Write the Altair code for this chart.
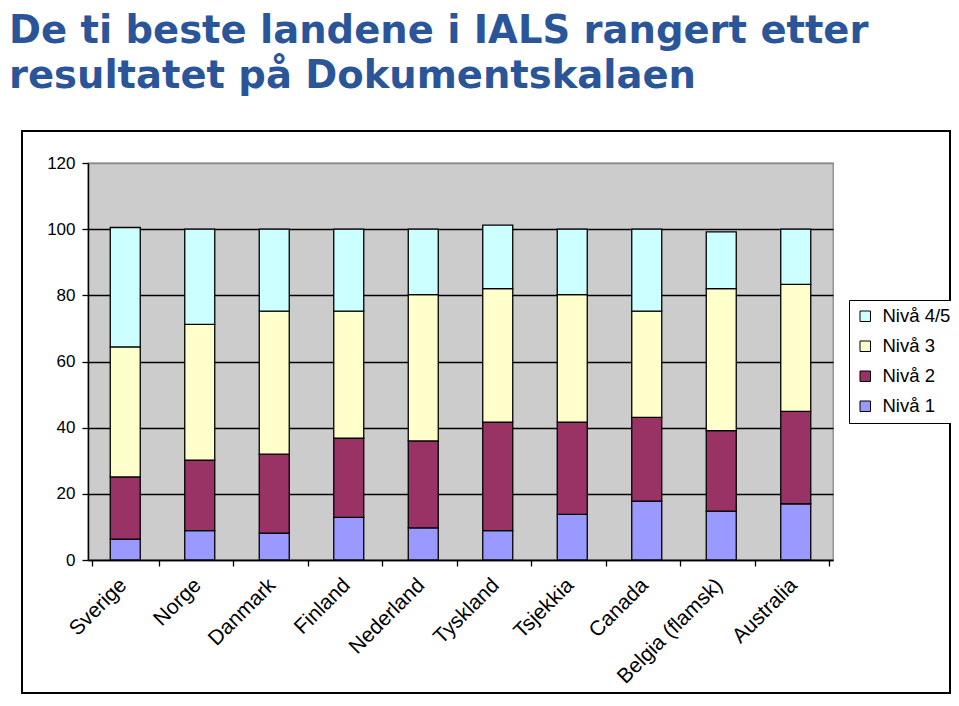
import altair as alt
import pandas as pd

countries = ["Sverige", "Norge", "Danmark", "Finland", "Nederland",
             "Tyskland", "Tsjekkia", "Canada", "Belgia (flamsk)", "Australia"]
niva1 = [6.3, 8.9, 8.1, 12.9, 9.7, 8.9, 13.8, 17.8, 14.8, 17.0]
niva2 = [18.8, 21.3, 23.9, 23.9, 26.3, 32.8, 27.9, 25.3, 24.3, 27.9]
niva3 = [39.3, 41.0, 43.2, 38.4, 44.2, 40.3, 38.5, 32.1, 42.9, 38.4]
niva45 = [36.1, 28.8, 24.8, 24.8, 19.8, 19.2, 19.8, 24.8, 17.2, 16.7]
levels = ["Nivå 1", "Nivå 2", "Nivå 3", "Nivå 4/5"]
colors = ["#9999FF", "#993366", "#FFFFCC", "#CCFFFF"]
y_ticks = [0, 20, 40, 60, 80, 100, 120]

rows = []
for lvl_i, (lvl, vals) in enumerate(zip(levels, [niva1, niva2, niva3, niva45])):
    for c, v in zip(countries, vals):
        rows.append({"land": c, "niva": lvl, "ord": lvl_i + 1, "verdi": v})
df = pd.DataFrame(rows)

FONT = "Liberation Sans"

bars = alt.Chart(df).mark_bar(size=30, stroke="black", strokeWidth=1.3).encode(
    x=alt.X("land:N", sort=countries, title=None,
            axis=alt.Axis(labelAngle=-45, labelFontSize=21, labelFont=FONT,
                          labelColor="black", labelPadding=8, labelOffset=-10,
                          tickBand="extent", tickSize=6, tickColor="black",
                          tickWidth=1.3, domainColor="black", domainWidth=1.5,
                          grid=False)),
    y=alt.Y("verdi:Q", stack="zero", title=None,
            scale=alt.Scale(domain=[0, 120], nice=False),
            axis=alt.Axis(values=y_ticks, labelFontSize=17, labelFont=FONT,
                          labelColor="black", labelPadding=7, tickSize=6,
                          tickColor="black", tickWidth=1.3,
                          domainColor="black", domainWidth=1.5,
                          grid=True,
                          gridColor=alt.condition("datum.value >= 120",
                                                  alt.value("#888888"),
                                                  alt.value("black")),
                          gridWidth=1.3)),
    color=alt.Color("niva:N",
                    scale=alt.Scale(domain=levels[::-1], range=colors[::-1]),
                    legend=alt.Legend(title=None, orient="none",
                                      legendX=761, legendY=137,
                                      symbolType="square", symbolSize=110,
                                      symbolStrokeColor="black",
                                      symbolStrokeWidth=1,
                                      labelFontSize=18.5, labelFont=FONT,
                                      labelColor="black", rowPadding=11,
                                      padding=7, strokeColor="black",
                                      fillColor="white", labelOffset=8)),
    order=alt.Order("ord:Q", sort="ascending"),
)

frame = alt.Chart(pd.DataFrame({"a": [0]})).mark_rect(
    fill=None, stroke="black", strokeWidth=2
).encode(x=alt.value(-66), x2=alt.value(862), y=alt.value(-32), y2=alt.value(530))

chart = alt.layer(bars, frame).properties(
    width=745, height=397,
    autosize=alt.AutoSizeParams(type="none"),
    padding={"left": 80, "top": 155, "right": 118, "bottom": 134},
    title=alt.TitleParams(
        text=["De ti beste landene i IALS rangert etter",
              "resultatet på Dokumentskalaen"],
        anchor="start", frame="group", fontSize=38.5, font="DejaVu Sans",
        fontWeight="bold", color="#2A5599", lineHeight=45, dx=-79, dy=-30),
).configure_view(fill="#CCCCCC", stroke="#888888", strokeWidth=1.3)

chart.save("out.html", embed_options={"renderer": "svg", "actions": False})
